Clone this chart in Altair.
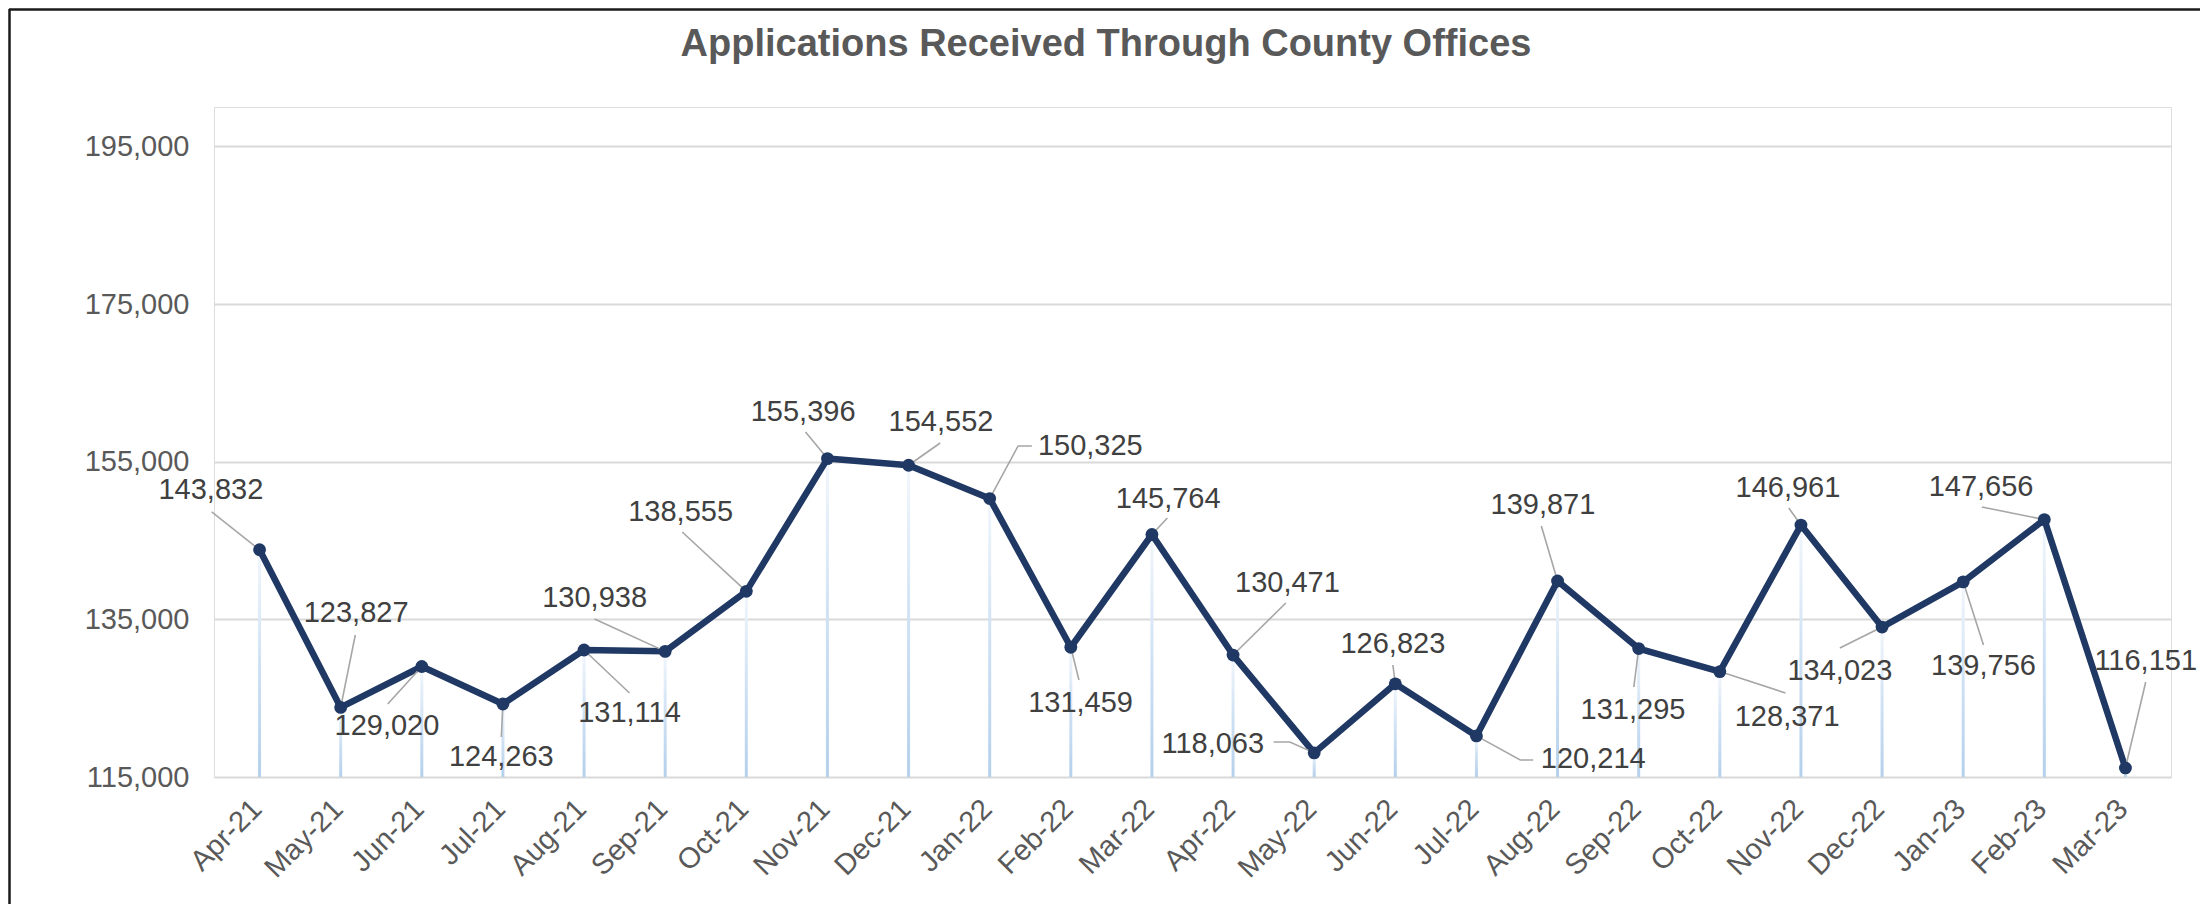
import altair as alt
import pandas as pd

# ---------------- data ----------------
months = ["Apr-21", "May-21", "Jun-21", "Jul-21", "Aug-21", "Sep-21", "Oct-21", "Nov-21",
          "Dec-21", "Jan-22", "Feb-22", "Mar-22", "Apr-22", "May-22", "Jun-22", "Jul-22",
          "Aug-22", "Sep-22", "Oct-22", "Nov-22", "Dec-22", "Jan-23", "Feb-23", "Mar-23"]
applications = [143832, 123827, 129020, 124263, 131114, 130938, 138555, 155396,
                 154552, 150325, 131459, 145764, 130471, 118063, 126823, 120214,
                 139871, 131295, 128371, 146961, 134023, 139756, 147656, 116151]

# data-label anchor (centre) in data units: month index, applications
label_x = [-0.60, 1.19, 1.57, 2.98, 4.56, 4.13, 5.19, 6.70, 8.40, 10.24, 10.12, 11.20,
           12.67, 11.75, 13.97, 16.44, 15.82, 16.93, 18.83, 18.84, 19.48, 21.25, 21.22, 23.25]
label_y = [151412, 135807, 121470, 117537, 123120, 137710, 148621, 161308, 160040, 156994,
           124388, 150270, 139613, 119187, 131874, 117284, 149509, 123500, 122612, 151666,
           128448, 129083, 151793, 129717]

# leader-line start (label side) in data units
leader_x = [-0.59, 1.18, 1.58, 2.98, 4.56, 4.13, 5.21, 6.73, 8.39, 9.52, 10.10, 11.19,
            12.65, 12.50, 13.97, 15.70, 15.80, 16.94, 18.81, 18.85, 19.48, 21.25, 21.23, 23.25]
leader_y = [148621, 133016, 124262, 120075, 125657, 135045, 146084, 158771, 157375, 156994,
            127307, 147860, 137076, 119440, 129210, 117157, 146845, 126418, 125657, 149128,
            131366, 131747, 149255, 127053]
elbow_index = [9, 13, 15]
elbow_x = [9.35, 12.70, 15.54]
elbow_y = [156994, 119440, 117157]

y_ticks = [115000, 135000, 155000, 175000, 195000]
Y_MIN, Y_MAX = 115000, 200000
title_text = "Applications Received Through County Offices"

# ---------------- tables ----------------
idx = list(range(len(months)))
df = pd.DataFrame({"i": idx, "month": months, "value": applications,
                   "lx": label_x, "ly": label_y, "base": [Y_MIN] * len(idx)})

rows = []
for i in idx:
    rows.append({"id": i, "o": 0, "x": leader_x[i], "y": leader_y[i]})
    if i in elbow_index:
        k = elbow_index.index(i)
        rows.append({"id": i, "o": 1, "x": elbow_x[k], "y": elbow_y[k]})
    rows.append({"id": i, "o": 2, "x": i, "y": applications[i]})
leaders_df = pd.DataFrame(rows)

# ---------------- layout ----------------
W, H = 1957, 670
PAD = {"left": 206, "top": 99, "right": 29, "bottom": 127}
FONT = "Liberation Sans"

xscale = alt.Scale(domain=[-0.5, 23.5], nice=False, zero=False)
yscale = alt.Scale(domain=[Y_MIN, Y_MAX], nice=False, zero=False)

label_expr = "[" + ",".join("'" + m + "'" for m in months) + "][datum.value]"
x_axis = alt.Axis(values=idx, labelExpr=label_expr, labelAngle=315, labelAlign="right",
                  labelBaseline="middle", labelPadding=27, labelOffset=-3, ticks=False,
                  domain=False, grid=False, title=None, labelFontSize=29, labelOverlap=False,
                  labelColor="#595959", labelFont=FONT)
y_axis = alt.Axis(values=y_ticks, format=",.0f", ticks=False, domain=False, grid=True,
                  gridColor="#d9d9d9", gridWidth=2, title=None, labelFontSize=29,
                  labelColor="#595959", labelPadding=25, labelFont=FONT, labelOverlap=False)


def X(f):
    return alt.X(f, scale=xscale)


def Y(f):
    return alt.Y(f, scale=yscale)


base = alt.Chart(df)

grad = alt.LinearGradient(
    gradient="linear",
    stops=[alt.GradientStop(offset=0, color="#f2f7fc"),
           alt.GradientStop(offset=0.5, color="#cfe1f4"),
           alt.GradientStop(offset=1, color="#b4d0ec")],
    x1=0, x2=0, y1=0, y2=1)

drops = base.mark_bar(size=3, fill=grad).encode(
    x=alt.X("i:Q", scale=xscale, axis=x_axis),
    y=alt.Y("value:Q", scale=yscale, axis=y_axis),
    y2="base:Q")

line = base.mark_line(color="#1f3864", strokeWidth=6.5, strokeJoin="round").encode(
    x=X("i:Q"), y=Y("value:Q"))

leaders = alt.Chart(leaders_df).mark_line(color="#a6a6a6", strokeWidth=1.6).encode(
    x=X("x:Q"), y=Y("y:Q"), detail="id:N", order="o:Q")

points = base.mark_point(filled=True, size=165, color="#1f3864", opacity=1).encode(
    x=X("i:Q"), y=Y("value:Q"))

labels = base.mark_text(fontSize=29, font=FONT, color="#404040", baseline="middle",
                        align="center").encode(
    x=X("lx:Q"), y=Y("ly:Q"), text=alt.Text("value:Q", format=","))

title = alt.Chart(pd.DataFrame({"t": [title_text]})).mark_text(
    fontSize=38, fontWeight="bold", font=FONT, color="#595959", align="center",
    baseline="alphabetic").encode(x=alt.value(892), y=alt.value(-51), text="t:N")

frame_top = alt.Chart(pd.DataFrame({"a": [0]})).mark_rule(color="#1a1a1a", strokeWidth=2.5).encode(
    x=alt.value(-PAD["left"] + 1), x2=alt.value(W + 60), y=alt.value(-PAD["top"] + 1.5))
frame_left = alt.Chart(pd.DataFrame({"a": [0]})).mark_rule(color="#1a1a1a", strokeWidth=2.5).encode(
    x=alt.value(-PAD["left"] + 1.5), y=alt.value(-PAD["top"] + 1), y2=alt.value(H + 200))

chart = alt.layer(drops, line, leaders, points, labels, title, frame_top, frame_left).properties(
    width=W, height=H, autosize=alt.AutoSizeParams(type="none"), padding=PAD,
    background="white"
).configure_view(strokeWidth=0).configure(font=FONT)

chart.save("out.html", embed_options={"renderer": "svg", "actions": False})
